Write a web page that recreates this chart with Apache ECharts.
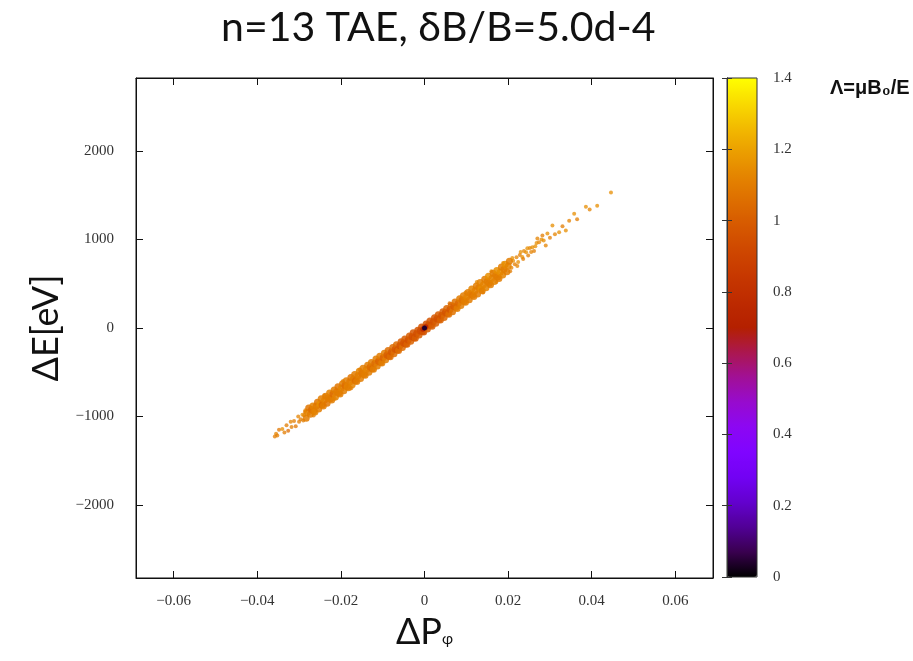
<!DOCTYPE html>
<html>
<head>
<meta charset="utf-8">
<script src="https://cdn.jsdelivr.net/npm/echarts@6/dist/echarts.min.js"></script>
<style>html,body{margin:0;padding:0;background:#fff}#chart{width:913px;height:661px}</style>
</head>
<body>
<div id="chart"></div>
<script>
// ---- data: [ΔPφ, ΔE (eV), Λ] ----
const lowTail = [
  [-0.0358,-1225,1.1],[-0.0355,-1195,1.12],[-0.0348,-1150,1.08],[-0.0352,-1215,1.1],
  [-0.0340,-1140,1.15],[-0.0335,-1180,1.1],[-0.0330,-1100,1.1],[-0.0326,-1160,1.05],
  [-0.0320,-1060,1.12],[-0.0318,-1120,1.1],[-0.0312,-1050,1.1],[-0.0308,-1110,1.08],
  [-0.0302,-1000,1.12],[-0.0300,-1060,1.1],[-0.0296,-1030,1.1],[-0.0292,-980,1.15],
  [-0.0290,-1045,1.1],[-0.0288,-985,1.12],[-0.0286,-950,1.08]
];
const edgeDots = [
  [0.0125,520,1.15],[0.0140,400,1.1],[0.0160,640,1.15],[0.0172,520,1.1],
  [0.0188,735,1.15],[0.0205,640,1.1],[0.0210,790,1.15],[0.0222,700,1.12],
  [0.0230,860,1.15],[0.0236,780,1.1],[0.0246,900,1.15],[0.0255,860,1.12],
  [0.0265,925,1.15],[0.0270,1010,1.12],[0.0285,990,1.15],[0.0098,400,1.12],
  [0.0060,280,1.08],[-0.0240,-760,1.12],[-0.0215,-800,1.1],[-0.0195,-600,1.12],
  [-0.0175,-680,1.1],[-0.0155,-470,1.12],[-0.0265,-990,1.1],[-0.0285,-930,1.12]
];
const bandLow = [
  [-0.0283,-1020,1.1],[-0.0280,-955,1.12],[-0.0277,-905,1.08],
  [-0.0273,-975,1.1],[-0.0270,-920,1.05],[-0.0267,-880,1.12],[-0.0265,-940,1.1],
  [-0.0262,-950,1.12],[-0.0259,-880,1.1],[-0.0256,-840,1.08],
  [-0.0253,-915,1.1],[-0.0250,-855,1.15],[-0.0247,-800,1.1],[-0.0245,-870,1.05],
  [-0.0242,-880,1.1],[-0.0239,-815,1.12],[-0.0236,-770,1.1],
  [-0.0233,-850,1.08],[-0.0230,-790,1.1],[-0.0227,-735,1.12],[-0.0225,-800,1.1],
  [-0.0222,-815,1.1],[-0.0219,-745,1.05],[-0.0216,-700,1.1],
  [-0.0213,-780,1.12],[-0.0210,-720,1.1],[-0.0207,-665,1.08],[-0.0205,-735,1.1],
  [-0.0202,-745,1.1],[-0.0199,-680,1.12],[-0.0196,-630,1.1],
  [-0.0193,-710,1.1],[-0.0190,-650,1.05],[-0.0187,-595,1.1],[-0.0185,-665,1.12],
  [-0.0182,-675,1.1],[-0.0179,-610,1.1],[-0.0176,-560,1.08],
  [-0.0173,-640,1.12],[-0.0170,-580,1.1],[-0.0167,-525,1.1],[-0.0165,-595,1.05],
  [-0.0162,-605,1.1],[-0.0159,-540,1.1],[-0.0156,-490,1.12],
  [-0.0153,-570,1.1],[-0.0150,-510,1.08],[-0.0147,-455,1.1],[-0.0145,-525,1.1],
  [-0.0142,-535,1.1],[-0.0139,-470,1.12],[-0.0136,-420,1.1],
  [-0.0133,-500,1.1],[-0.0130,-440,1.05],[-0.0127,-390,1.1],[-0.0125,-460,1.05],
  [-0.0122,-465,1.1],[-0.0119,-400,1.05],[-0.0116,-350,1.1]
];
const bandCore = [
  [-0.0113,-430,1.1],[-0.0110,-375,1.02],[-0.0107,-320,1.1],[-0.0105,-390,1.05],
  [-0.0102,-395,1.1],[-0.0099,-335,1.02],[-0.0096,-285,1.1],
  [-0.0093,-360,1.1],[-0.0090,-305,1.0],[-0.0087,-255,1.05],[-0.0085,-320,1.0],
  [-0.0082,-325,1.05],[-0.0079,-270,0.98],[-0.0076,-220,1.05],
  [-0.0073,-290,1.05],[-0.0070,-240,0.98],[-0.0067,-190,1.05],[-0.0065,-250,0.97],
  [-0.0062,-255,1.05],[-0.0059,-200,0.97],[-0.0056,-155,1.0],
  [-0.0053,-220,1.05],[-0.0050,-170,0.96],[-0.0047,-125,1.0],[-0.0045,-180,0.95],
  [-0.0042,-185,1.02],[-0.0039,-135,0.95],[-0.0036,-90,1.0],
  [-0.0033,-150,1.02],[-0.0030,-100,0.95],[-0.0027,-55,0.98],[-0.0025,-110,0.94],
  [-0.0022,-115,1.0],[-0.0019,-65,0.94],[-0.0016,-25,0.97],
  [-0.0013,-80,1.0],[-0.0010,-35,0.93],[-0.0007,10,0.96],[-0.0005,-40,0.93],
  [-0.0002,-45,0.96],[0.0001,5,0.93],[0.0004,45,0.96],
  [0.0007,-10,1.0],[0.0010,35,0.93],[0.0013,80,0.97],[0.0015,30,0.95],
  [0.0018,20,1.0],[0.0021,70,0.95],[0.0024,115,0.98],
  [0.0027,55,1.0],[0.0030,105,0.95],[0.0033,150,1.0],[0.0035,95,0.96],
  [0.0038,90,1.02],[0.0041,140,0.96],[0.0044,185,1.0],
  [0.0047,120,1.03],[0.0050,175,0.97],[0.0053,220,1.03],[0.0055,165,0.98],
  [0.0058,155,1.06],[0.0061,210,0.98],[0.0064,255,1.04],
  [0.0067,185,1.07],[0.0070,245,1.0],[0.0073,295,1.07],[0.0075,235,1.03]
];
const bandHigh = [
  [0.0078,220,1.1],[0.0081,280,1.04],[0.0084,330,1.1],
  [0.0087,255,1.1],[0.0090,315,1.06],[0.0093,365,1.1],[0.0095,300,1.1],
  [0.0098,290,1.1],[0.0101,350,1.12],[0.0104,400,1.1],
  [0.0107,320,1.1],[0.0110,385,1.1],[0.0113,440,1.12],[0.0115,370,1.08],
  [0.0118,355,1.1],[0.0121,420,1.12],[0.0124,475,1.1],
  [0.0127,385,1.1],[0.0130,455,1.1],[0.0133,515,1.12],[0.0135,440,1.15],
  [0.0138,420,1.1],[0.0141,490,1.12],[0.0144,550,1.1],
  [0.0147,455,1.12],[0.0150,525,1.1],[0.0153,585,1.15],[0.0155,505,1.1],
  [0.0158,490,1.1],[0.0161,560,1.12],[0.0164,620,1.1],
  [0.0167,525,1.12],[0.0170,595,1.1],[0.0173,650,1.15],[0.0175,575,1.1],
  [0.0178,560,1.1],[0.0181,630,1.15],[0.0184,690,1.1],
  [0.0187,600,1.12],[0.0190,665,1.1],[0.0193,720,1.15],
  [0.0197,635,1.1],[0.0200,700,1.12],[0.0203,755,1.1]
];
const highTail = [
  [0.0208,680,1.12],[0.0212,760,1.15],[0.0216,720,1.1],[0.0220,800,1.12],
  [0.0224,745,1.15],[0.0228,825,1.1],[0.0234,801,1.15],[0.0238,870,1.12],
  [0.0243,857,1.15],[0.0248,820,1.1],[0.0252,905,1.12],[0.0258,913,1.15],
  [0.0262,870,1.1],[0.0268,960,1.15],[0.0274,970,1.12],[0.0280,1000,1.15],
  [0.0282,1045,1.1],[0.0290,933,1.12],[0.0294,1067,1.15],[0.0300,1020,1.1],
  [0.0306,1157,1.15],[0.0312,1060,1.12],[0.0322,1082,1.15],[0.0330,1150,1.1],
  [0.0338,1101,1.15],[0.0346,1213,1.12],[0.0358,1292,1.15],[0.0365,1230,1.1],
  [0.0386,1371,1.15],[0.0395,1340,1.12],[0.0413,1382,1.15],[0.0446,1531,1.15]
];
const centre = [
  [-0.0004,-15,0.78],[0.0003,15,0.76],[0.0000,0,0.04]
];
const xTicks = [-0.06,-0.04,-0.02,0,0.02,0.04,0.06];
const yTicks = [-2000,-1000,0,1000,2000];
// gnuplot pm3d default palette (7,5,15) stops
const palette = ['#000000','#39004f','#510096','#6301ce','#7202f3','#8004ff','#8c07f3',
  '#970bce','#a11096','#ab174f','#b42000','#bd2a00','#c63700','#ce4600','#d55700',
  '#dd6c00','#e48300','#eb9d00','#f2ba00','#f9db00','#ffff00'];

const minus = v => String(v).replace('-', '\u2212');
const tickFont = {fontFamily:'Liberation Serif', fontSize:15, color:'#333'};

const chart = echarts.init(document.getElementById('chart'));
chart.setOption({
  animation: false,
  backgroundColor: '#fff',
  title: {
    text: 'n=13 TAE, \u03b4B/B=5.0d-4',
    left: 216, top: 2,
    textStyle: {fontFamily:'Lato', fontSize:41, fontWeight:'normal', color:'#111'}
  },
  grid: [
    {left:136, top:78, width:577, height:500, show:true, borderColor:'#111', borderWidth:1, z:5},
    {left:727, top:78, width:30, height:499, show:true, borderColor:'#333', borderWidth:1, backgroundColor:'transparent', z:10}
  ],
  xAxis: [
    {type:'value', gridIndex:0, min:-0.069, max:0.069, position:'bottom',
     splitLine:{show:false},
     axisLine:{show:true, onZero:false, lineStyle:{color:'#111'}},
     axisTick:{show:true, inside:true, length:7, customValues:xTicks, lineStyle:{color:'#111'}},
     axisLabel:{customValues:xTicks, margin:16, formatter:minus, ...tickFont},
     name:'\u0394P{s|\u03c6}', nameLocation:'middle', nameGap:33,
     nameTextStyle:{fontFamily:'Lato', fontSize:36, color:'#111',
       rich:{s:{fontFamily:'Lato', fontSize:15, padding:[14,0,0,0], color:'#111'}}}},
    {type:'value', gridIndex:0, min:-0.069, max:0.069, position:'top',
     splitLine:{show:false},
     axisLine:{show:true, onZero:false, lineStyle:{color:'#111'}},
     axisTick:{show:true, inside:true, length:7, customValues:xTicks, lineStyle:{color:'#111'}},
     axisLabel:{show:false}},
    {type:'value', gridIndex:1, min:0, max:1, show:false}
  ],
  yAxis: [
    {type:'value', gridIndex:0, min:-2825, max:2825, position:'left',
     splitLine:{show:false},
     axisLine:{show:true, onZero:false, lineStyle:{color:'#111'}},
     axisTick:{show:true, inside:true, length:7, customValues:yTicks, lineStyle:{color:'#111'}},
     axisLabel:{customValues:yTicks, margin:22, formatter:minus, ...tickFont},
     name:'\u0394E[eV]', nameLocation:'middle', nameGap:72,
     nameTextStyle:{fontFamily:'Lato', fontSize:36, color:'#111'}},
    {type:'value', gridIndex:0, min:-2825, max:2825, position:'right',
     splitLine:{show:false},
     axisLine:{show:true, onZero:false, lineStyle:{color:'#111'}},
     axisTick:{show:true, inside:true, length:7, customValues:yTicks, lineStyle:{color:'#111'}},
     axisLabel:{show:false}},
    {type:'value', gridIndex:1, min:0, max:1.4, interval:0.2, position:'right', z:10,
     splitLine:{show:false},
     axisLine:{show:true, lineStyle:{color:'#333'}},
     axisTick:{show:true, inside:true, length:5, lineStyle:{color:'#333'}},
     axisLabel:{margin:16, ...tickFont}},
    {type:'value', gridIndex:1, min:0, max:1.4, interval:0.2, position:'left', z:10,
     splitLine:{show:false},
     axisLine:{show:true, lineStyle:{color:'#333'}},
     axisTick:{show:true, inside:true, length:5, lineStyle:{color:'#333'}},
     axisLabel:{show:false}}
  ],
  visualMap: {
    type:'continuous', min:0, max:1.4, dimension:2, seriesIndex:[0,1,2],
    left:727, top:78, itemWidth:30, itemHeight:499, padding:0,
    calculable:false, realtime:false, hoverLink:false, text:null,
    inRange:{color:palette}, textStyle:{color:'transparent'}
  },
  graphic: [{
    type:'text', left:830, top:78,
    style:{text:'\u039b=\u03bcB\u2080/E', fontFamily:'Liberation Sans', fontWeight:'bold', fontSize:20, fill:'#111'}
  }],
  series: [
    {type:'scatter', xAxisIndex:0, yAxisIndex:0, symbol:'circle', symbolSize:4,
     itemStyle:{opacity:0.75}, data: lowTail.concat(highTail, edgeDots)},
    {type:'scatter', xAxisIndex:0, yAxisIndex:0, symbol:'circle', symbolSize:7,
     itemStyle:{opacity:0.85}, data: bandLow.concat(bandCore, bandHigh)},
    {type:'scatter', xAxisIndex:0, yAxisIndex:0, symbol:'circle', symbolSize:5,
     itemStyle:{opacity:1}, data: centre}
  ]
});
</script>
</body>
</html>
